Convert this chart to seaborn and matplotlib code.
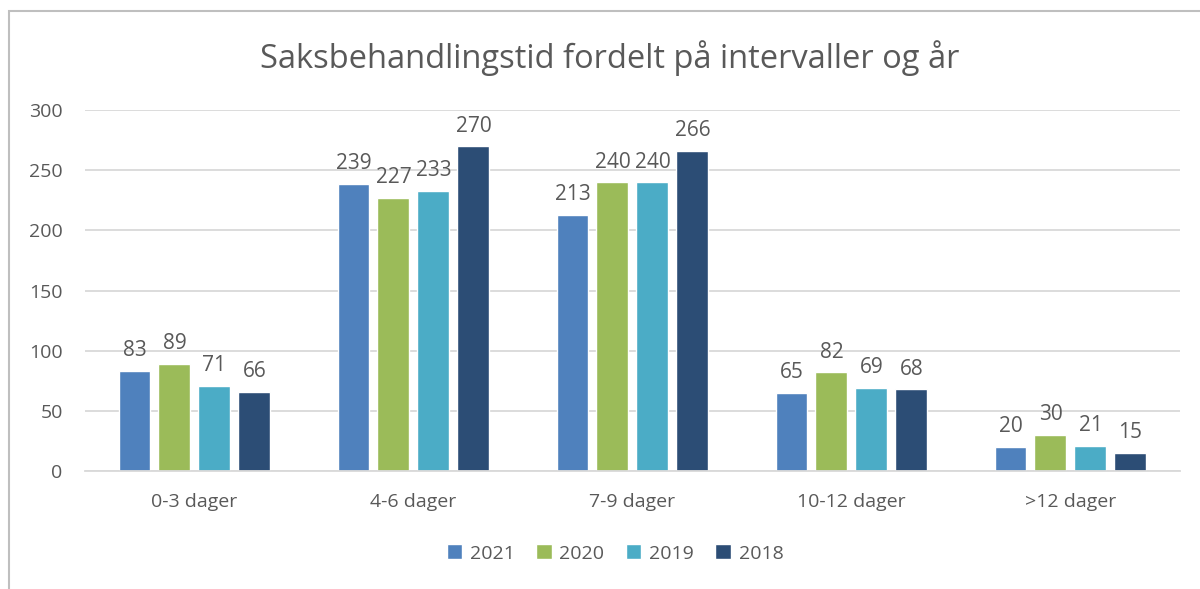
import pandas as pd
import seaborn as sns
import matplotlib.pyplot as plt
from matplotlib.patches import Rectangle

# Data
intervals = ["0-3 dager", "4-6 dager", "7-9 dager", "10-12 dager", ">12 dager"]
years = ["2021", "2020", "2019", "2018"]
v2021 = [83, 239, 213, 65, 20]
v2020 = [89, 227, 240, 82, 30]
v2019 = [71, 233, 240, 69, 21]
v2018 = [66, 270, 266, 68, 15]
colors = ["#4F81BD", "#9BBB59", "#4BACC6", "#2C4D75"]

rows = []
for year, vals in zip(years, [v2021, v2020, v2019, v2018]):
    for cat, v in zip(intervals, vals):
        rows.append({"Intervall": cat, "År": year, "Antall": v})
df = pd.DataFrame(rows)

sns.set_style("white")
plt.rcParams["font.family"] = ["Open Sans", "DejaVu Sans"]
text_color = "#595959"

fig = plt.figure(figsize=(12, 5.89), dpi=100)
ax = fig.add_axes([0.0708, 0.2003, 0.9125, 0.6127])

sns.barplot(data=df, x="Intervall", y="Antall", hue="År", order=intervals,
            hue_order=years, palette=colors, width=0.73, gap=0.2,
            saturation=1, ax=ax, legend=True)

for container in ax.containers:
    ax.bar_label(container, padding=7, fontsize=15, color=text_color)

ax.set_ylim(0, 300)
ax.set_yticks(range(0, 301, 50))
ax.yaxis.grid(True, color="#D9D9D9", linewidth=1.3)
ax.set_axisbelow(True)
ax.set_xlabel("")
ax.set_ylabel("")
for side in ["top", "right", "left"]:
    ax.spines[side].set_visible(False)
ax.spines["bottom"].set_color("#D9D9D9")
ax.spines["bottom"].set_linewidth(1.3)
ax.tick_params(axis="both", length=0, labelsize=14, labelcolor=text_color)
ax.tick_params(axis="x", pad=16)
ax.tick_params(axis="y", pad=16)

# Title centred on the whole chart area, not on the axes
fig.text(610 / 1200, 1 - 58 / 589, "Saksbehandlingstid fordelt på intervaller og år",
         fontsize=23.5, color=text_color, ha="center", va="center")

ax.legend(loc="upper center", bbox_to_anchor=(0.484, -0.155), ncol=4, frameon=False,
          fontsize=14, labelcolor=text_color, handlelength=0.8, handleheight=0.8,
          handletextpad=0.4, columnspacing=1.1)

fig.add_artist(Rectangle((9 / 1200, -0.1), 1.5, 1 - 11 / 589 + 0.1,
                         transform=fig.transFigure, fill=False,
                         edgecolor="#BFBFBF", linewidth=1.5))

plt.savefig("out.png", dpi=100)
